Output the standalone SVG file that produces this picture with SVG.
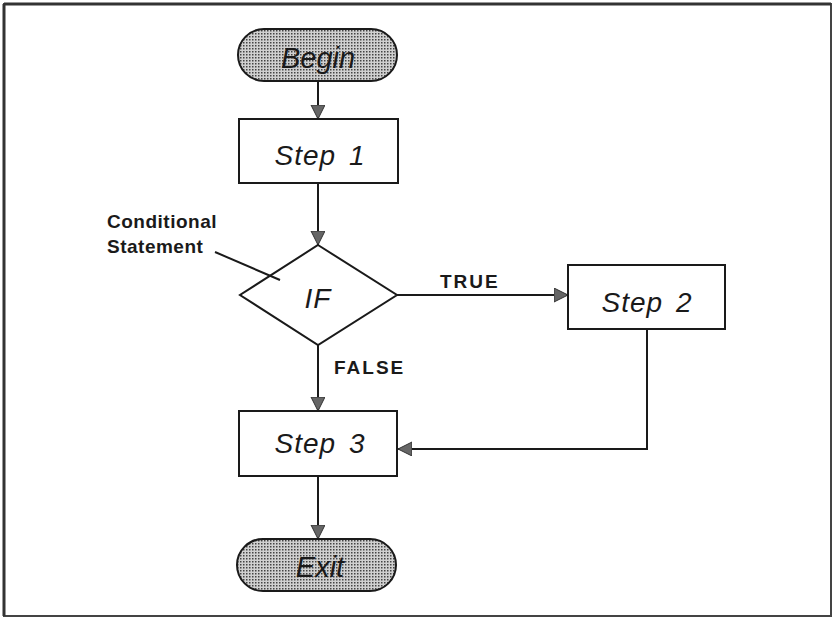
<svg xmlns="http://www.w3.org/2000/svg" width="834" height="619" viewBox="0 0 834 619">
<style>
.shape{fill:#fff;stroke:#1a1a1a;stroke-width:2}
.term{fill:url(#dots);stroke:#1a1a1a;stroke-width:2}
.lbl{font-family:"Liberation Sans",Arial,sans-serif;font-style:italic;font-size:28px;fill:#1a1a1a;text-anchor:middle;letter-spacing:1px;word-spacing:4px}
.tl{font-family:"Liberation Sans",Arial,sans-serif;font-style:italic;font-size:29px;fill:#1a1a1a;text-anchor:middle}
.bold{font-family:"Liberation Sans",Arial,sans-serif;font-weight:bold;font-size:19px;fill:#1a1a1a;letter-spacing:2px}
.conn{fill:none;stroke:#1a1a1a;stroke-width:2}
</style>
<defs>
<pattern id="dots" width="3" height="3" patternUnits="userSpaceOnUse">
<rect width="3" height="3" fill="#d0d0d0"/>
<rect width="1.5" height="1.5" fill="#444"/>
</pattern>
<marker id="arr" markerUnits="userSpaceOnUse" markerWidth="16" markerHeight="16" refX="14" refY="7" orient="auto">
<path d="M0,0 L14,7 L0,14 Z" fill="#666" stroke="#333" stroke-width="1"/>
</marker>
</defs>
<rect x="0" y="0" width="834" height="619" fill="#fff"/>
<rect x="4" y="4" width="827" height="612" fill="none" stroke="#444" stroke-width="2"/>
<path d="M4,4 H831 M4,4 V616" stroke="#333" stroke-width="3" fill="none"/>
<g id="connectors">
<line class="conn" x1="318" y1="81" x2="318" y2="119" marker-end="url(#arr)"/>
<line class="conn" x1="318" y1="183" x2="318" y2="245" marker-end="url(#arr)"/>
<line class="conn" x1="397" y1="295" x2="568" y2="295" marker-end="url(#arr)"/>
<line class="conn" x1="318" y1="345" x2="318" y2="411" marker-end="url(#arr)"/>
<polyline class="conn" points="647,329 647,449 398,449" marker-end="url(#arr)"/>
<line class="conn" x1="318" y1="476" x2="318" y2="539" marker-end="url(#arr)"/>
<text class="bold" x="440" y="288">TRUE</text>
<text class="bold" x="334" y="374">FALSE</text>
</g>
<g id="begin">
<rect class="term" x="238" y="29" width="159" height="52" rx="26" ry="26"/>
<text class="tl" x="318" y="68">Begin</text>
</g>
<g id="step1">
<rect class="shape" x="239" y="119" width="159" height="64"/>
<text class="lbl" x="320" y="165">Step 1</text>
</g>
<g id="if">
<polygon class="shape" points="318,245 397,295 318,345 240,295"/>
<text class="lbl" x="318" y="308">IF</text>
</g>
<g id="step2">
<rect class="shape" x="568" y="265" width="157" height="64"/>
<text class="lbl" x="647" y="312">Step 2</text>
</g>
<g id="step3">
<rect class="shape" x="239" y="411" width="158" height="65"/>
<text class="lbl" x="320" y="453">Step 3</text>
</g>
<g id="exit">
<rect class="term" x="237" y="539" width="159" height="52" rx="26" ry="26"/>
<text class="tl" x="320" y="577">Exit</text>
</g>
<g id="note">
<text class="bold" x="107" y="228" style="letter-spacing:0.5px">Conditional</text>
<text class="bold" x="107" y="253" style="letter-spacing:0.5px">Statement</text>
<line class="conn" x1="215" y1="252" x2="280" y2="280"/>
</g>
</svg>
